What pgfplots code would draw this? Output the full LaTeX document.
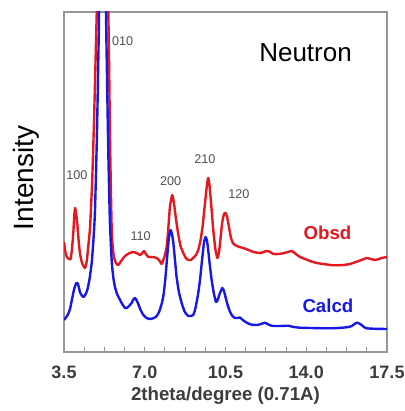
\documentclass[border=0pt]{standalone}
\usepackage{pgfplots}
\pgfplotsset{compat=1.18}
\usepackage{fontspec}
\setmainfont{Liberation Sans}
\definecolor{obs}{RGB}{228,24,30}
\definecolor{calc}{RGB}{24,24,228}
\definecolor{framec}{RGB}{150,150,150}
\definecolor{ticklab}{RGB}{60,60,60}
\definecolor{peaklab}{RGB}{80,80,80}
\pgfplotstableread{
x y
3.50 110
3.56 100
3.62 95
3.72 93
3.79 93
3.85 104
3.90 118
3.95 138
3.98 144
4.02 139
4.08 127
4.14 110
4.19 99
4.28 89
4.41 84
4.48 90
4.55 105
4.63 125
4.72 170
4.80 230
4.92 340
5.17 580
5.42 340
5.50 205
5.57 120
5.65 97
5.75 89
5.85 87
5.95 90
6.07 94
6.20 97
6.35 99
6.50 100
6.65 99
6.79 97
6.90 99
6.97 101
7.05 98
7.16 95
7.35 95
7.52 94
7.65 91
7.73 88
7.85 95
7.95 105
8.02 123
8.09 145
8.19 157
8.27 148
8.36 132
8.45 118
8.55 106
8.67 99
8.78 94
8.89 92
9.00 92
9.10 94
9.22 97
9.32 102
9.42 112
9.51 126
9.58 142
9.64 155
9.70 168
9.75 174
9.80 168
9.86 153
9.92 136
9.97 122
10.06 103
10.15 94
10.22 100
10.29 115
10.35 128
10.40 135
10.46 139
10.51 139
10.57 135
10.62 129
10.68 121
10.74 114
10.82 109
10.91 107
11.10 105
11.27 104
11.50 102
11.71 100
12.00 99
12.15 100
12.29 101
12.45 100
12.57 98
12.80 98
13.00 98.7
13.20 100
13.37 101
13.55 98
13.73 95
13.95 93
14.16 91
14.45 89
14.74 88
15.05 87
15.32 86.7
15.60 87
15.90 88
16.15 90
16.33 91.5
16.50 93
16.62 94
16.80 93
16.98 92
17.15 93
17.27 94
17.50 95
}\obsd
\pgfplotstableread{
x y
3.50 32
3.60 35
3.68 38
3.76 43
3.85 53
3.92 61
3.98 66
4.04 69
4.08 69
4.13 66
4.19 60
4.26 57
4.34 55
4.42 57
4.51 62
4.60 72
4.70 89
4.77 110
4.84 139
4.93 220
5.02 340
5.17 620
5.32 340
5.42 200
5.49 130
5.57 90
5.64 74
5.71 65
5.80 58
5.93 52
6.05 47
6.15 44
6.22 44
6.32 46
6.43 49
6.52 53
6.58 54
6.64 52
6.72 48
6.82 42
6.94 37
7.08 34
7.23 33
7.40 34
7.52 36
7.62 40
7.72 47
7.80 55
7.88 70
7.95 89
8.00 103
8.05 115
8.12 122
8.18 118
8.24 109
8.31 92
8.38 75
8.48 60
8.60 49
8.72 41
8.80 38
8.89 36
9.00 36
9.10 37
9.18 42
9.25 50
9.32 59
9.40 73
9.47 89
9.53 102
9.57 110
9.64 115
9.70 111
9.75 102
9.82 87
9.90 72
10.00 58
10.09 50
10.16 52
10.26 59
10.36 64
10.42 62
10.48 57
10.58 48
10.70 40
10.80 36
10.91 34
11.02 34
11.13 34.5
11.25 32
11.42 29.3
11.60 27.5
11.85 27
12.05 28
12.21 29.3
12.40 27
12.57 26
12.90 26
13.22 26.3
13.45 25
13.73 24.3
14.20 24
14.89 23.7
15.40 24
15.75 24.7
15.92 25.5
16.04 27
16.14 28.8
16.21 29.3
16.30 28.5
16.40 27
16.50 25
16.62 23.7
17.00 23.2
17.50 23
}\calcd
\begin{document}
\begin{tikzpicture}
\useasboundingbox (0pt,0pt) rectangle (303pt,308.25pt);
\begin{axis}[
  at={(48pt,44.25pt)}, anchor=south west,
  width=242.25pt, height=255pt, scale only axis,
  xmin=3.5, xmax=17.5, ymin=0, ymax=340,
  xtick={3.5,7,10.5,14,17.5},
  xticklabels={3.5,7.0,10.5,14.0,17.5},
  minor x tick num=3,
  xtick pos=bottom, ytick=\empty,
  tick align=inside,
  axis line style={framec, line width=1pt},
  every tick/.style={framec, line width=0.8pt},
  major tick length=4pt, minor tick length=4pt,
  xticklabel style={font=\fontsize{13.5}{15}\selectfont\bfseries, text=ticklab, anchor=base, yshift=-19.5pt, inner sep=0pt},
  xlabel={2theta/degree (0.71A)},
  xlabel style={font=\fontsize{14}{16}\selectfont\bfseries, text=ticklab, at={(axis description cs:0.5,-0.144)}, anchor=base, inner sep=0pt},
  ylabel={Intensity},
  ylabel style={font=\fontsize{21}{23}\selectfont, at={(axis description cs:-0.118,0.512)}, anchor=center},
  clip=true,
]
\addplot[obs, line width=1.8pt, line join=round, smooth, tension=0.3] table {\obsd};
\addplot[calc, line width=1.8pt, line join=round, smooth, tension=0.3] table {\calcd};
\node[font=\fontsize{9.5}{10}\selectfont, text=peaklab, anchor=base] at (axis cs:4.06,172.7) {100};
\node[font=\fontsize{9.5}{10}\selectfont, text=peaklab, anchor=base] at (axis cs:6.04,306.3) {010};
\node[font=\fontsize{9.5}{10}\selectfont, text=peaklab, anchor=base] at (axis cs:8.12,166.3) {200};
\node[font=\fontsize{9.5}{10}\selectfont, text=peaklab, anchor=base] at (axis cs:9.61,188.7) {210};
\node[font=\fontsize{9.5}{10}\selectfont, text=peaklab, anchor=base] at (axis cs:11.08,153.7) {120};
\node[font=\fontsize{9.5}{10}\selectfont, text=peaklab, anchor=base] at (axis cs:6.82,112) {110};
\node[font=\fontsize{19.5}{21}\selectfont, anchor=base] at (axis cs:13.97,290) {Neutron};
\node[font=\fontsize{14}{16}\selectfont\bfseries, text=obs, anchor=base] at (axis cs:14.92,112.7) {Obsd};
\node[font=\fontsize{14}{16}\selectfont\bfseries, text=calc, anchor=base] at (axis cs:14.94,39.7) {Calcd};
\end{axis}
\end{tikzpicture}
\end{document}
